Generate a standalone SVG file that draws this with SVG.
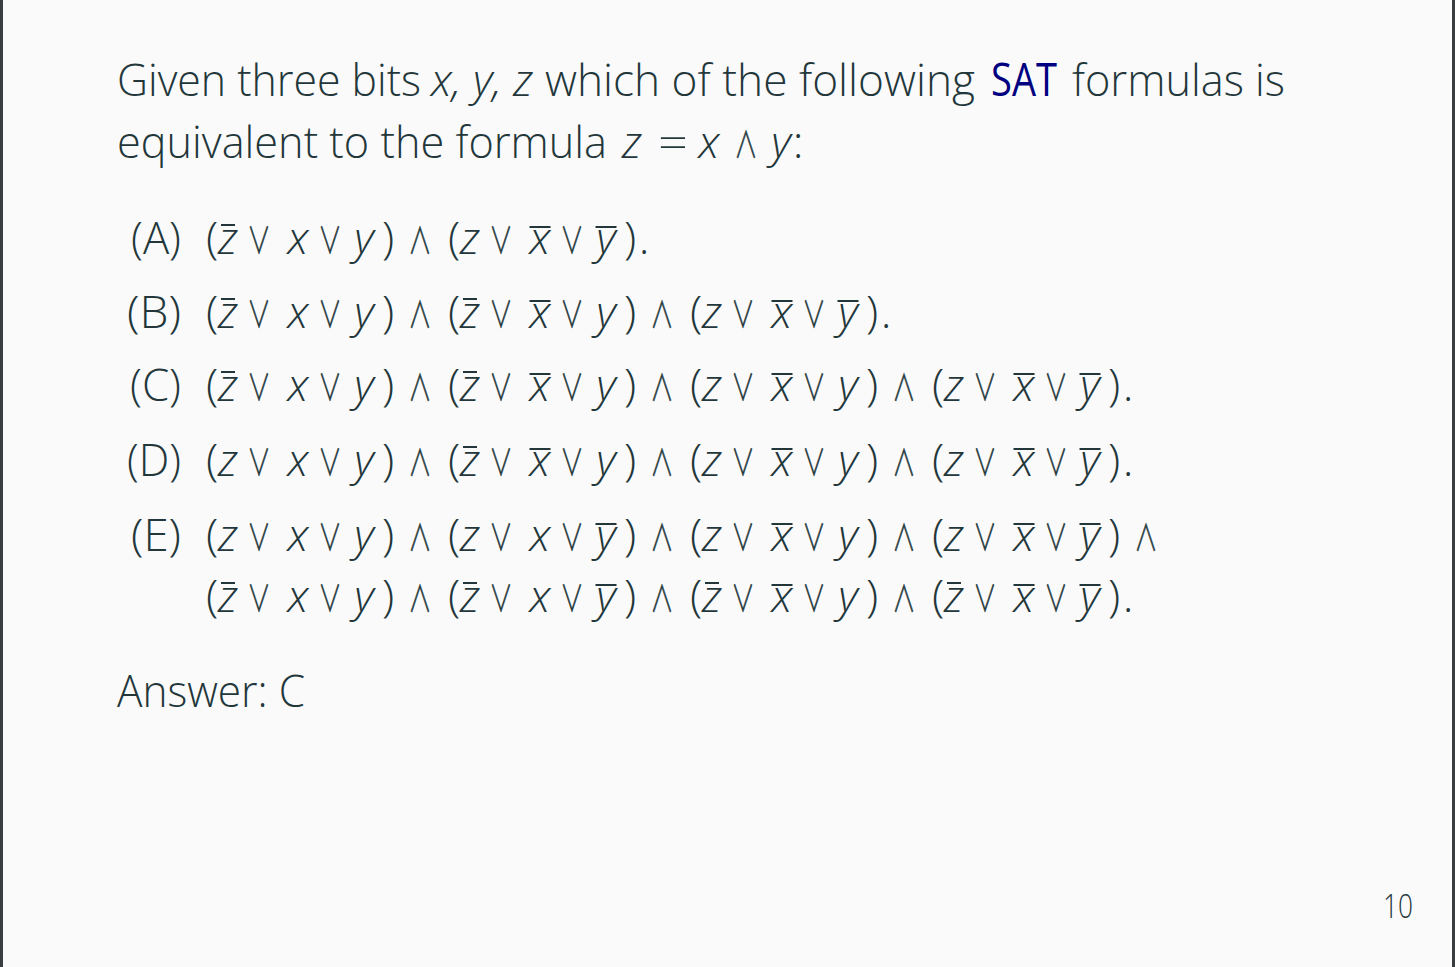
<svg xmlns="http://www.w3.org/2000/svg" width="1455" height="967" viewBox="0 0 1455 967">
<style>
.t{font-family:"Open Sans","Liberation Sans",sans-serif;font-weight:300;font-size:45px;fill:#23373b}
.i{font-family:"Open Sans","Liberation Sans",sans-serif;font-weight:300;font-style:italic;font-size:45px;fill:#23373b}
.m{font-family:"Open Sans","Liberation Sans",sans-serif;font-weight:300;font-size:45px;fill:#23373b;text-anchor:middle}
.v{font-family:"Open Sans","Liberation Sans",sans-serif;font-weight:300;font-style:italic;font-size:45px;fill:#23373b;text-anchor:middle}
.op{font-family:"Noto Sans CJK SC","DejaVu Sans",sans-serif;font-weight:300;font-size:36px;fill:#23373b;stroke:#23373b;stroke-width:0.6;text-anchor:middle}
.ov{stroke:#23373b;stroke-width:2;fill:none}
.sat{fill:#000080;font-weight:400}
</style>
<rect x="0" y="0" width="1455" height="967" fill="#fafafa"/>
<rect x="0" y="0" width="3" height="967" fill="#3a3d40"/>
<rect x="1452" y="0" width="3" height="967" fill="#3a3d40"/>

<g id="question">
<text class="t" x="117" y="96" textLength="304" lengthAdjust="spacingAndGlyphs">Given three bits</text>
<text class="i" x="431" y="96" textLength="102" lengthAdjust="spacingAndGlyphs">x, y, z</text>
<text class="t" x="545" y="96" textLength="430" lengthAdjust="spacingAndGlyphs">which of the following</text>
<text class="t sat" x="991" y="96" textLength="66" lengthAdjust="spacingAndGlyphs">SAT</text>
<text class="t" x="1072" y="96" textLength="213" lengthAdjust="spacingAndGlyphs">formulas is</text>
<text class="t" x="117" y="158" textLength="490" lengthAdjust="spacingAndGlyphs">equivalent to the formula</text>
<text class="v" x="632 709 781" y="158">zxy</text>
<text class="m" x="658" y="158" textLength="30" lengthAdjust="spacingAndGlyphs" style="text-anchor:start">=</text>
<text class="op" transform="scale(0.65 1)" x="1147.7" y="158">∧</text>
<text class="m" x="798" y="158">:</text>
</g>

<g id="option-A">
<text class="t" x="131" y="254" textLength="50" lengthAdjust="spacingAndGlyphs">(A)</text>
<text class="m" y="254" x="212 388 454 630 644">()().</text>
<text class="v" y="254" x="228 298 364 470 540 606">zxyzxy</text>
<text class="op" transform="scale(0.65 1)" y="254" x="398.5 507.7 646.2 770.8 880">∨∨∧∨∨</text>
<path class="ov" d="M221 225h14M529.5 227h21M595.5 227h21"/>
</g>

<g id="option-B">
<text class="t" x="127" y="328" textLength="54" lengthAdjust="spacingAndGlyphs">(B)</text>
<text class="m" y="328" x="212 388 454 630 696 872 886">()()().</text>
<text class="v" y="328" x="228 298 364 470 540 606 712 782 848">zxyzxyzxy</text>
<text class="op" transform="scale(0.65 1)" y="328" x="398.5 507.7 646.2 770.8 880 1018.5 1143.1 1252.3">∨∨∧∨∨∧∨∨</text>
<path class="ov" d="M221 299h14M463 299h14M529.5 301h21M771.5 301h21M837.5 301h21"/>
</g>

<g id="option-C">
<text class="t" x="130" y="401" textLength="51" lengthAdjust="spacingAndGlyphs">(C)</text>
<text class="m" y="401" x="212 388 454 630 696 872 938 1114 1128">()()()().</text>
<text class="v" y="401" x="228 298 364 470 540 606 712 782 848 954 1024 1090">zxyzxyzxyzxy</text>
<text class="op" transform="scale(0.65 1)" y="401" x="398.5 507.7 646.2 770.8 880 1018.5 1143.1 1252.3 1390.8 1515.4 1624.6">∨∨∧∨∨∧∨∨∧∨∨</text>
<path class="ov" d="M221 372h14M463 372h14M529.5 374h21M771.5 374h21M1013.5 374h21M1079.5 374h21"/>
</g>

<g id="option-D">
<text class="t" x="127" y="476" textLength="54" lengthAdjust="spacingAndGlyphs">(D)</text>
<text class="m" y="476" x="212 388 454 630 696 872 938 1114 1128">()()()().</text>
<text class="v" y="476" x="228 298 364 470 540 606 712 782 848 954 1024 1090">zxyzxyzxyzxy</text>
<text class="op" transform="scale(0.65 1)" y="476" x="398.5 507.7 646.2 770.8 880 1018.5 1143.1 1252.3 1390.8 1515.4 1624.6">∨∨∧∨∨∧∨∨∧∨∨</text>
<path class="ov" d="M463 447h14M529.5 449h21M771.5 449h21M1013.5 449h21M1079.5 449h21"/>
</g>

<g id="option-E">
<text class="t" x="131" y="551" textLength="50" lengthAdjust="spacingAndGlyphs">(E)</text>
<text class="m" y="551" x="212 388 454 630 696 872 938 1114">()()()()</text>
<text class="v" y="551" x="228 298 364 470 540 606 712 782 848 954 1024 1090">zxyzxyzxyzxy</text>
<text class="op" transform="scale(0.65 1)" y="551" x="398.5 507.7 646.2 770.8 880 1018.5 1143.1 1252.3 1390.8 1515.4 1624.6 1763.1">∨∨∧∨∨∧∨∨∧∨∨∧</text>
<path class="ov" d="M595.5 524h21M771.5 524h21M1013.5 524h21M1079.5 524h21"/>
<text class="m" y="612" x="212 388 454 630 696 872 938 1114 1128">()()()().</text>
<text class="v" y="612" x="228 298 364 470 540 606 712 782 848 954 1024 1090">zxyzxyzxyzxy</text>
<text class="op" transform="scale(0.65 1)" y="612" x="398.5 507.7 646.2 770.8 880 1018.5 1143.1 1252.3 1390.8 1515.4 1624.6">∨∨∧∨∨∧∨∨∧∨∨</text>
<path class="ov" d="M221 583h14M463 583h14M705 583h14M947 583h14M595.5 585h21M771.5 585h21M1013.5 585h21M1079.5 585h21"/>
</g>

<g id="answer">
<text class="t" x="117" y="707" textLength="188" lengthAdjust="spacingAndGlyphs">Answer: C</text>
</g>

<g id="page-number">
<text class="t" x="1383" y="918" style="font-size:33px" textLength="30" lengthAdjust="spacingAndGlyphs">10</text>
</g>
</svg>
